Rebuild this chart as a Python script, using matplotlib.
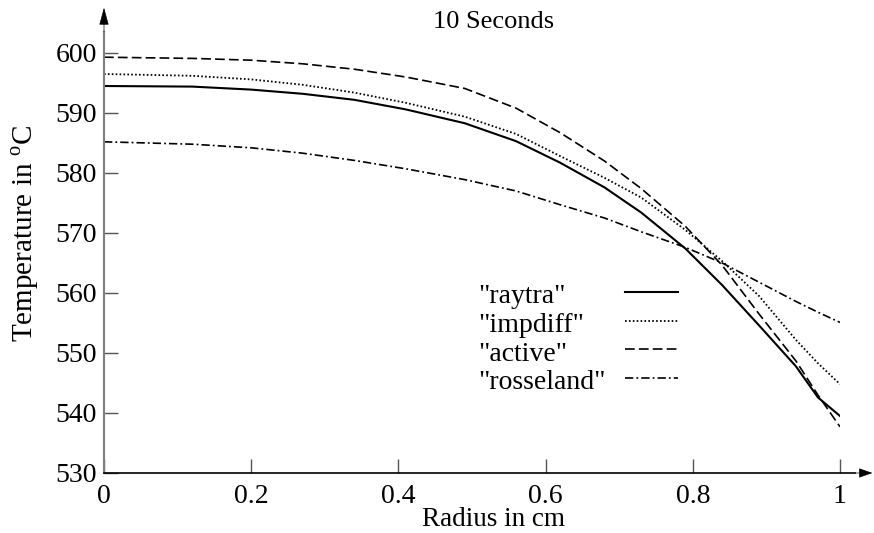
import matplotlib
matplotlib.use('Agg')
import matplotlib.pyplot as plt
from matplotlib.lines import Line2D

plt.rcParams['font.family'] = ['Liberation Serif', 'DejaVu Serif']
plt.rcParams['mathtext.fontset'] = 'custom'
plt.rcParams['mathtext.rm'] = 'Liberation Serif'
plt.rcParams['lines.scale_dashes'] = False

# radius (cm) and temperature (C)
radius = [0, 0.12, 0.2, 0.27, 0.34, 0.41, 0.49, 0.56, 0.62, 0.68,
          0.73, 0.79, 0.84, 0.89, 0.94, 0.97, 1.0]
raytra = [594.5, 594.4, 593.9, 593.2, 592.2, 590.6, 588.3, 585.3, 581.7, 577.6,
          573.4, 567.4, 561.3, 554.6, 547.8, 542.6, 539.5]
impdiff = [596.5, 596.2, 595.6, 594.7, 593.4, 591.7, 589.4, 586.5, 582.8, 579.2,
           575.9, 570.5, 565.3, 559.5, 552.2, 548.3, 544.8]
active = [599.3, 599.1, 598.8, 598.2, 597.3, 596.0, 594.1, 590.8, 586.7, 582.0,
          577.4, 571.1, 564.6, 556.5, 548.7, 543.0, 537.7]
rosseland = [585.2, 584.8, 584.2, 583.3, 582.1, 580.7, 578.9, 577.0, 574.7, 572.5,
             570.2, 567.6, 565.0, 561.8, 558.6, 556.8, 555.1]

labels = ['"raytra"', '"impdiff"', '"active"', '"rosseland"']
series = [raytra, impdiff, active, rosseland]
styles = [dict(linestyle='-', linewidth=1.5),
          dict(linestyle=(0, (1.2, 1.6)), linewidth=1.3),
          dict(linestyle=(0, (7, 3)), linewidth=1.2),
          dict(linestyle=(0, (6, 2.2, 1.3, 2.2)), linewidth=1.2)]

xticks = [0, 0.2, 0.4, 0.6, 0.8, 1]
xticklabels = ['0', '0.2', '0.4', '0.6', '0.8', '1']
yticks = [530, 540, 550, 560, 570, 580, 590, 600]

fig = plt.figure(figsize=(8.74, 5.33), dpi=100)
ax = fig.add_axes([104 / 874, 60 / 533, 736 / 874, 420 / 533])

for vals, st in zip(series, styles):
    ax.plot(radius, vals, color='black', **st)

ax.set_xlim(0, 1)
ax.set_ylim(530, 600)
for s in ax.spines.values():
    s.set_visible(False)

ax.set_xticks(xticks)
ax.set_xticklabels(xticklabels)
ax.set_yticks(yticks)
ax.tick_params(axis='both', direction='in', length=10, width=1, color='#555555',
               labelsize=20)
ax.tick_params(axis='x', pad=8)
ax.tick_params(axis='y', pad=5)

# axis lines with arrow heads
ax.add_line(Line2D([0, 0], [0, 1.05], transform=ax.transAxes, color='#7f7f7f',
                   linewidth=1.5, clip_on=False))
ax.add_line(Line2D([0, 1.02], [0, 0], transform=ax.transAxes, color='black',
                   linewidth=1.2, clip_on=False))
ax.annotate('', xy=(0, 1.108), xytext=(0, 1.05), xycoords='axes fraction',
            arrowprops=dict(arrowstyle='-|>,head_length=1.1,head_width=0.3',
                            color='black', lw=0.5, shrinkA=0, shrinkB=0))
ax.annotate('', xy=(1.044, 0), xytext=(1.02, 0), xycoords='axes fraction',
            arrowprops=dict(arrowstyle='-|>,head_length=0.85,head_width=0.3',
                            color='black', lw=0.5, shrinkA=0, shrinkB=0))

ax.set_xlabel('Radius in cm', fontsize=19.5)
ax.xaxis.set_label_coords(0.529, -0.080)
ax.set_ylabel(r'Temperature in $^{\rm o}$C', fontsize=21)
ax.yaxis.set_label_coords(-0.085, 0.571)
ax.text(0.529, 1.073, '10 Seconds', transform=ax.transAxes, fontsize=19,
        ha='center', va='center')

# legend drawn by hand: text on the left, sample on the right
leg_y = [0.420, 0.351, 0.283, 0.215]
for lab, st, yy in zip(labels, styles, leg_y):
    ax.text(0.508, yy, lab, transform=ax.transAxes, fontsize=20,
            ha='left', va='center')
    ax.add_line(Line2D([0.708, 0.780], [yy + 0.012, yy + 0.012],
                       transform=ax.transAxes, color='black', **st))

fig.savefig('out.png', dpi=100)
